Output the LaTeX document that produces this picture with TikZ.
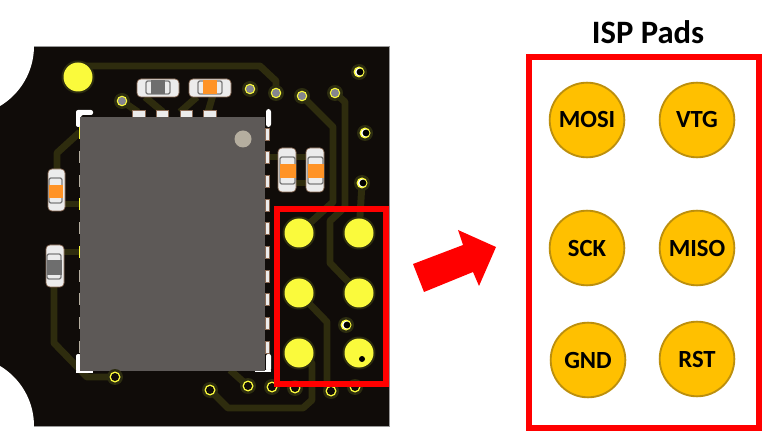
\documentclass[tikz,border=0pt]{standalone}
\usepackage{fontspec}
\setmainfont{Carlito}
\definecolor{pcb}{HTML}{100C09}
\definecolor{trace}{HTML}{2E2C0E}
\definecolor{halo}{HTML}{2C2C10}
\definecolor{padyel}{HTML}{FAFA3C}
\definecolor{chip}{HTML}{5D5957}
\definecolor{dotc}{HTML}{B5AE9F}
\definecolor{ispfill}{HTML}{FFC000}
\definecolor{ispline}{HTML}{BC8F0D}
\definecolor{capor}{HTML}{FF9326}
\definecolor{capgr}{HTML}{6E6E6E}
\definecolor{capend}{HTML}{ECECEC}
\definecolor{capline}{HTML}{8A6A55}
\definecolor{frameg}{HTML}{7C7C7C}
\definecolor{holeg}{HTML}{85858F}
\tikzset{
  tracks/.style={draw=trace,line width=5.2pt,line join=round},
  ispcircle/.style={circle,draw=ispline,fill=ispfill,line width=1.4pt,minimum size=56pt,inner sep=0pt,font=\bfseries\fontsize{18.5}{20}\selectfont,text=black},
  redbox/.style={draw=red,line width=4.5pt,miter limit=10},
  capbody/.style={fill=capend,draw=capline,line width=.5pt,rounded corners=3pt},
  capframe/.style={fill=capend,draw=frameg,line width=1pt,rounded corners=1.5pt},
  pinbox/.style={fill=capend,draw=capline,line width=.4pt}
}
% x0 y0 x1 y1 framex0 framex1 midy0 midy1 colour
\newcommand{\capV}[9]{%
  \path[capbody] (#1,#2) rectangle (#3,#4);
  \path[capframe] (#5,#2+9) rectangle (#6,#4-8);
  \fill[#9] (#5-.5,#7) rectangle (#6+.5,#8);
}
% x0 y0 x1 y1 framey0 framey1 midx0 midx1 colour
\newcommand{\capH}[9]{%
  \path[capbody] (#1,#2) rectangle (#3,#4);
  \path[capframe] (#1+9,#5) rectangle (#3-9,#6);
  \fill[#9] (#7,#5-.5) rectangle (#8,#6+.5);
}
\begin{document}
\begin{tikzpicture}[x=0.75pt,y=-0.75pt]
\useasboundingbox (0,0) rectangle (762,448);
% board
\fill[pcb] (0,46) rectangle (389,426);
\draw[black!40,line width=.6pt] (34,46) -- (389,46) -- (389,426) -- (34,426);
\fill[white] (-36,46) circle (70);
\fill[white] (-36,426) circle (70);
% traces
\draw[tracks] (78,66) -- (260,66) -- (276,81) -- (276,93);
\draw[tracks] (302,96) -- (333,127) -- (333,202) -- (299,233);
\draw[tracks] (335,93) -- (345,102) -- (345,207) -- (330,221) -- (330,263) -- (359,293);
\draw[tracks] (362,183) -- (359,233);
\draw[tracks] (299,293) -- (327,322) -- (327,391);
\draw[tracks] (299,353) -- (312,363) -- (312,400) -- (303,408) -- (228,408) -- (210,390);
\draw[tracks] (230,370) -- (248,386);
\draw[tracks] (115,377) -- (87,377) -- (54,343) -- (54,285);
\draw[tracks] (63,204) -- (80,204);
\draw[tracks] (63,252) -- (80,252);
\draw[tracks] (80,132) -- (57,153) -- (57,173);
\draw[tracks] (122,101) -- (138,112);
\draw[tracks] (145,97) -- (163,112);
\draw[tracks] (197,97) -- (180,112);
\draw[tracks] (213,95) -- (208,112);
\draw[tracks] (268,157) -- (307,157);
\draw[tracks] (296,183) -- (307,183);
% chip pads
\foreach \xa/\xb in {132/145,156/168,180/192,203/216}
  \path[pinbox] (\xa,110) rectangle (\xb,118);
\foreach \ya in {134,157,181,205,228,252,276,299,323,347}
  \path[pinbox] (265,\ya-6) rectangle (269,\ya+6);
\foreach \ya in {157,181,228,276,299,323,347}
  \fill[dotc] (78.5,\ya-6) rectangle (80.5,\ya+6);
\foreach \ya in {133,204,252}
  \fill[padyel] (78.5,\ya-6) rectangle (80.5,\ya+6);
\fill[white,rounded corners=1.5pt] (76,127) -- (76,110) -- (93,110) -- (93,115) -- (81,115) -- (81,127) -- cycle;
\fill[white,rounded corners=1.5pt] (76,354) rectangle (81,372);
\fill[white] (76,371) rectangle (93,372.5);
\fill[white,rounded corners=2pt] (266,109) rectangle (271,127);
\fill[white,rounded corners=1.5pt] (266,354) rectangle (271,371);
\fill[white] (255,370) rectangle (271,372);
% chip
\fill[chip] (80,117) rectangle (265,371);
\fill[dotc] (243,139) circle (8.5);
% capacitors
\capH{137}{79}{179}{97}{81}{94}{151}{165}{capgr}
\capH{189}{79}{231}{97}{81}{94}{203}{217}{capor}
\capV{278}{148}{296}{192}{280}{295}{164}{178}{capor}
\capV{306}{148}{324}{192}{308}{323}{164}{178}{capor}
\capV{48}{169}{65}{211}{49}{62}{185}{198}{capor}
\capV{46}{245}{64}{287}{47}{61}{260}{275}{capgr}
% vias with a grey layer in the hole
\foreach \vx/\vy in {250/89,276/93,302/96,335/93,122/101} {
  \fill[halo] (\vx,\vy) circle (8);
  \fill[padyel] (\vx,\vy) circle (5.3);
  \fill[holeg] (\vx,\vy) circle (4);
}
% vias with a dark hole
\foreach \vx/\vy in {359/72,365/133,362/183,346/325} {
  \fill[halo] (\vx,\vy) circle (8);
  \fill[padyel] (\vx,\vy) circle (5.5);
  \fill[white] (\vx,\vy) circle (4);
  \fill[black] (\vx+1,\vy) circle (3.4);
}
\foreach \vx/\vy in {210/390,248/386,272/387,295/388,331/391,355/387,115/377} {
  \fill[halo] (\vx,\vy) circle (8);
  \fill[padyel] (\vx,\vy) circle (5.5);
  \fill[pcb] (\vx,\vy) circle (4);
}
% large pads
\foreach \px/\py in {299/233,359/233,299/293,359/293,299/353,359/353,78/77} {
  \fill[halo] (\px,\py) circle (16.5);
  \fill[padyel] (\px,\py) circle (14.5);
}
\fill[black] (362,359) circle (3);
% box on the board
\draw[redbox] (277,209) rectangle (386,384);
% arrow
\fill[red] (413,264) -- (463,245) -- (458,230) -- (496,247) -- (479,286) -- (473,272) -- (424,292) -- cycle;
% ISP pads
\node[font=\bfseries\fontsize{24.5}{26}\selectfont] (title) at (648,32) {ISP Pads};
\draw[redbox] (529,57) rectangle (759,428);
\node[ispcircle] (mosi) at (587,120) {MOSI};
\node[ispcircle] (vtg) at (697,120) {VTG};
\node[ispcircle] (sck) at (587,248) {SCK};
\node[ispcircle] (miso) at (697,248) {MISO};
\node[ispcircle] (gnd) at (588,360) {GND};
\node[ispcircle] (rst) at (697,359) {RST};
\end{tikzpicture}
\end{document}
